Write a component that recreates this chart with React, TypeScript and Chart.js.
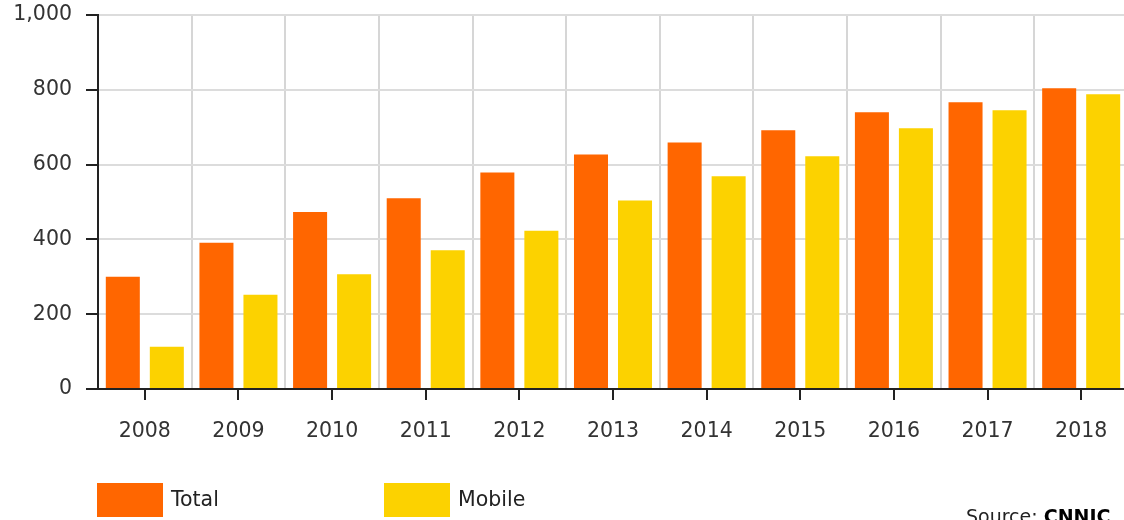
import React, { useEffect, useRef } from "react";
import { Chart, registerables } from "chart.js";

Chart.register(...registerables);

const years = ["2008", "2009", "2010", "2011", "2012", "2013", "2014", "2015", "2016", "2017", "2018"];
const totalUsers = [300, 391, 473, 510, 579, 627, 659, 692, 740, 767, 804];
const mobileUsers = [113, 252, 307, 371, 423, 504, 569, 622, 697, 745, 788];
const seriesNames = ["Total", "Mobile"];
const seriesColors = ["#FF6600", "#FCD200"];
const yTicks = [0, 200, 400, 600, 800, 1000];
const sourceLabel = "Source: ";
const sourceName = "CNNIC";

const FONT = "'DejaVu Sans', Verdana, sans-serif";

const extrasPlugin = {
  id: "extras",
  afterDraw(chart: any) {
    const ctx = chart.ctx;
    const xScale = chart.scales.x;
    const area = chart.chartArea;
    ctx.save();
    // x tick marks at category centers
    ctx.strokeStyle = "#222";
    ctx.lineWidth = 2;
    for (let i = 0; i < chart.data.labels.length; i++) {
      const x = Math.round(xScale.getPixelForValue(i));
      ctx.beginPath();
      ctx.moveTo(x, area.bottom);
      ctx.lineTo(x, area.bottom + 11);
      ctx.stroke();
    }
    // legend
    const legendPos = [
      { box: 97, text: 171 },
      { box: 384, text: 458 },
    ];
    ctx.font = `20.5px ${FONT}`;
    ctx.textBaseline = "middle";
    ctx.textAlign = "left";
    chart.data.datasets.forEach((ds: any, i: number) => {
      const p = legendPos[i];
      ctx.fillStyle = ds.backgroundColor;
      ctx.fillRect(p.box, 483, 66, 34);
      ctx.fillStyle = "#222";
      ctx.fillText(ds.label, p.text, 501);
    });
    // source
    ctx.textBaseline = "alphabetic";
    ctx.font = `19px ${FONT}`;
    ctx.fillStyle = "#222";
    const w1 = ctx.measureText(sourceLabel).width;
    ctx.fillText(sourceLabel, 966, 523);
    ctx.font = `bold 19px ${FONT}`;
    ctx.fillStyle = "#000";
    ctx.fillText(sourceName, 966 + w1, 523);
    ctx.restore();
  },
};

export default function App() {
  const canvasRef = useRef<HTMLCanvasElement | null>(null);

  useEffect(() => {
    if (!canvasRef.current) return;
    const chart = new Chart(canvasRef.current, {
      type: "bar",
      data: {
        labels: years,
        datasets: [
          { label: seriesNames[0], data: totalUsers, backgroundColor: seriesColors[0], borderWidth: 0 },
          { label: seriesNames[1], data: mobileUsers, backgroundColor: seriesColors[1], borderWidth: 0 },
        ],
      },
      options: {
        animation: false,
        responsive: false,
        maintainAspectRatio: false,
        devicePixelRatio: 1,
        layout: { padding: { top: 15, right: 4, bottom: 0, left: 0 } },
        plugins: {
          legend: { display: false },
          tooltip: { enabled: false },
        },
        datasets: {
          bar: { categoryPercentage: 0.94, barPercentage: 0.773 },
        },
        scales: {
          x: {
            offset: true,
            grid: { offset: true, drawTicks: false, color: "#d6d6d6", lineWidth: 2 },
            border: { color: "#222", width: 2 },
            ticks: { color: "#333", font: { family: FONT, size: 20.5 }, padding: 30, maxRotation: 0 },
            afterFit: (s: any) => {
              s.height = 131;
              s.paddingLeft = 0;
              s.paddingRight = 0;
            },
          },
          y: {
            min: 0,
            max: 1000,
            afterBuildTicks: (s: any) => {
              s.ticks = yTicks.map((v) => ({ value: v }));
            },
            grid: { color: "#dcdcdc", lineWidth: 2, tickLength: 12, tickColor: "#222", tickWidth: 2 },
            border: { color: "#222", width: 2 },
            ticks: {
              color: "#333",
              font: { family: FONT, size: 20.5 },
              padding: 14,
              callback: (v: any) => Number(v).toLocaleString("en-US"),
            },
            afterFit: (s: any) => {
              s.width = 98;
              s.paddingTop = 0;
              s.paddingBottom = 0;
            },
          },
        },
      },
      plugins: [extrasPlugin],
    });
    return () => chart.destroy();
  }, []);

  return (
    <div style={{ position: "fixed", left: 0, top: 0, width: 1124, height: 520, overflow: "hidden", background: "#fff" }}>
      <canvas ref={canvasRef} width={1132} height={520} style={{ display: "block" }} />
    </div>
  );
}
